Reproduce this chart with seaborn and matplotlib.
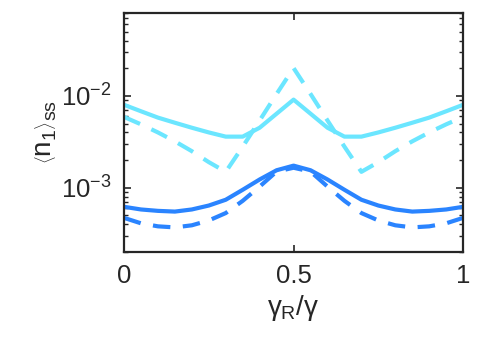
import numpy as np
import pandas as pd
import matplotlib
matplotlib.use("Agg")
import matplotlib.pyplot as plt
import seaborn as sns

x_vals = [0.0, 0.05, 0.1, 0.15, 0.2, 0.25, 0.3, 0.35, 0.4, 0.45, 0.5,
          0.55, 0.6, 0.65, 0.7, 0.75, 0.8, 0.85, 0.9, 0.95, 1.0]
cyan_solid = [0.0080, 0.0068, 0.0058, 0.0051, 0.0045, 0.0040, 0.0036, 0.0036, 0.0045, 0.0064, 0.0091,
              0.0064, 0.0045, 0.0036, 0.0036, 0.0040, 0.0045, 0.0051, 0.0058, 0.0068, 0.0080]
cyan_dashed = [0.0059, 0.0049, 0.0040, 0.0032, 0.0025, 0.0019, 0.00149, 0.0028, 0.0054, 0.0105, 0.0201,
               0.0105, 0.0054, 0.0028, 0.00149, 0.0019, 0.0025, 0.0032, 0.0040, 0.0049, 0.0059]
blue_solid = [0.00062, 0.00058, 0.00056, 0.00055, 0.00058, 0.00064, 0.00074, 0.00095, 0.00123, 0.00155, 0.00174,
              0.00155, 0.00123, 0.00095, 0.00074, 0.00064, 0.00058, 0.00055, 0.00056, 0.00058, 0.00062]
blue_dashed = [0.00047, 0.00041, 0.00038, 0.00037, 0.00039, 0.00044, 0.00053, 0.00072, 0.00103, 0.00150, 0.00165,
               0.00150, 0.00103, 0.00072, 0.00053, 0.00044, 0.00039, 0.00037, 0.00038, 0.00041, 0.00047]

series = {
    "cyan_solid": cyan_solid,
    "cyan_dashed": cyan_dashed,
    "blue_solid": blue_solid,
    "blue_dashed": blue_dashed,
}
rows = []
for name, vals in series.items():
    for xv, yv in zip(x_vals, vals):
        rows.append({"x": xv, "y": yv, "series": name})
df = pd.DataFrame(rows)

sns.set_style("ticks")
plt.rcParams["font.family"] = ["Liberation Sans", "DejaVu Sans"]
plt.rcParams["mathtext.fontset"] = "custom"
plt.rcParams["mathtext.rm"] = "Liberation Sans"
plt.rcParams["mathtext.it"] = "Liberation Sans"
plt.rcParams["mathtext.sf"] = "Liberation Sans"

CYAN = "#6BE6FF"
BLUE = "#2A84FF"
colors = {"cyan_solid": CYAN, "cyan_dashed": CYAN, "blue_solid": BLUE, "blue_dashed": BLUE}
dashes = {"cyan_solid": "", "cyan_dashed": (4.2, 3.0), "blue_solid": "", "blue_dashed": (4.2, 3.0)}

fig = plt.figure(figsize=(4.98, 3.40), dpi=100)
ax = fig.add_axes([0.249, 0.259, 0.681, 0.703])

sns.lineplot(data=df, x="x", y="y", hue="series", style="series",
             palette=colors, dashes=dashes, linewidth=3.0, legend=False, ax=ax,
             sort=False, estimator=None)

ax.set_yscale("log")
ax.set_xlim(0, 1)
ax.set_ylim(2.0e-4, 0.08)
ax.set_xticks([0, 0.5, 1])
ax.set_xticklabels(["0", "0.5", "1"])
ax.set_yticks([1e-3, 1e-2])

for sp in ax.spines.values():
    sp.set_visible(True)
    sp.set_linewidth(1.6)
    sp.set_color("#262626")

ax.tick_params(axis="both", which="both", direction="in", top=True, right=True,
               color="#262626")
ax.tick_params(axis="both", which="major", length=5, width=1.2, labelsize=18.5, pad=9)
ax.tick_params(axis="y", which="minor", length=3, width=1.0)

ax.set_xlabel(r"$\gamma_\mathrm{R}/\gamma$", fontsize=20, labelpad=3)
ax.set_ylabel(r"$\left\langle \mathrm{n}_1 \right\rangle_\mathrm{ss}$", fontsize=20, labelpad=2)

fig.savefig("out.png", dpi=100)
